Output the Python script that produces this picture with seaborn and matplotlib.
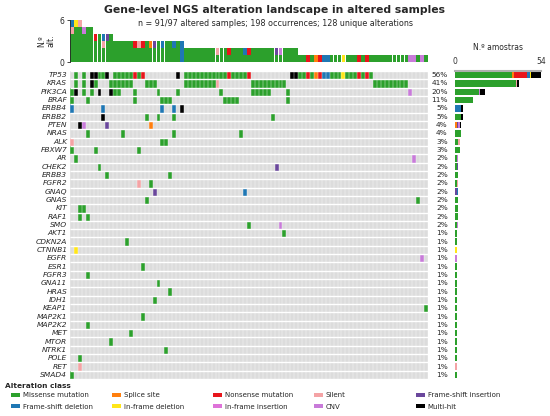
import numpy as np
import pandas as pd
import seaborn as sns
import matplotlib.pyplot as plt
from matplotlib.colors import ListedColormap
from matplotlib.patches import Patch


N_TOTAL = 97
N_SAMPLES = 91
N_UNIQUE = 128

genes = ["TP53", "KRAS", "PIK3CA", "BRAF", "ERBB4", "ERBB2", "PTEN", "NRAS", "ALK",
         "FBXW7", "AR", "CHEK2", "ERBB3", "FGFR2", "GNAQ", "GNAS", "KIT", "RAF1", "SMO",
         "AKT1", "CDKN2A", "CTNNB1", "EGFR", "ESR1", "FGFR3", "GNA11", "HRAS", "IDH1",
         "KEAP1", "MAP2K1", "MAP2K2", "MET", "MTOR", "NTRK1", "POLE", "RET", "SMAD4"]

# one letter per alteration class, a cell with 2+ letters is a multi-hit
class_codes = ["M", "S", "N", "L", "I", "D", "d", "i", "C"]
class_names = ["Missense mutation", "Splice site", "Nonsense mutation", "Silent",
               "Frame-shift insertion", "Frame-shift deletion", "In-frame deletion",
               "In-frame insertion", "CNV"]
class_colors = ["#2ca02c", "#ff7f0e", "#e8151b", "#f4a3a5", "#6a479c",
                "#1f77b4", "#ffe619", "#de73d9", "#c87bd9"]
MULTI_COLOR = "#000000"
EMPTY_COLOR = "#dcdcdc"

# sample index : alteration code(s), per gene
gene_rows = [
    "1:M 3:M 5:MM 6:MN 7:M 8:M 9:MM 11-15:M 16:N 17:M 18:N 27:MM 29-39:M 40:N 41-44:M 45:N "
    "56:MM 57:MM 58:M 59:M 60:N 61:M 62:S 63:N 64:D 65:D 66-68:M 69:d 70-72:M 73:N 74:M 75:N 76:M",
    "1:M 3:M 5:MM 6:M 10-15:M 19-21:M 29-36:M 37:L 46-54:M 77-85:M",
    "0:M 1:MM 3:M 5:M 7:MM 10:MM 11:M 12:M 16:M 22:M 27:M 38:M 46-50:M 55:M 86:C",
    "0:M 4:M 16:M 23-25:M 39-42:M 55:M",
    "0:D 8:D 23:D 26:D 28:DDD",
    "8:ML 19:M 22:M 26:M 51:M",
    "2:MM 3:C 9:I 20:S",
    "4:M 13:M 26:M 43:M",
    "0:L 23:M 24:M",
    "0:M 6:M 17:M",
    "1:M 87:C",
    "7:M 52:I",
    "9:M 25:M",
    "17:L 20:M",
    "21:I 44:D",
    "19:M 88:M",
    "2:M 3:M",
    "2:M 4:M",
    "45:M 53:C",
    "54:M",
    "14:M",
    "1:d",
    "89:C",
    "18:M",
    "4:M",
    "22:M",
    "25:M",
    "21:M",
    "90:M",
    "18:M",
    "4:M",
    "15:M",
    "10:M",
    "24:M",
    "2:M",
    "2:L",
    "0:M",
]


def parse_row(text):
    cells = {}
    for tok in text.split():
        pos, code = tok.split(":")
        if "-" in pos:
            a, b = pos.split("-")
            for c in range(int(a), int(b) + 1):
                cells[c] = code
        else:
            cells[int(pos)] = code
    return cells


rows = [parse_row(r) for r in gene_rows]

# matrix of classes: 0 empty, 1..9 class, 10 multi-hit
mat = np.zeros((len(genes), N_SAMPLES), dtype=int)
sample_counts = pd.DataFrame(0, index=range(N_SAMPLES), columns=class_codes)
gene_counts = pd.DataFrame(0, index=genes, columns=class_codes + ["X"])
for g, (gene, cells) in enumerate(zip(genes, rows)):
    for col, code in cells.items():
        for ch in code:
            sample_counts.loc[col, ch] += 1
        if len(code) > 1:
            mat[g, col] = 10
            gene_counts.loc[gene, "X"] += 1
        else:
            mat[g, col] = class_codes.index(code) + 1
            gene_counts.loc[gene, code] += 1

n_occ = int(sample_counts.values.sum())

sns.set_style("white")
plt.rcParams["font.family"] = ["DejaVu Sans"]

fig = plt.figure(figsize=(5.5, 4.16), dpi=100)
W, H = 550.0, 416.0

ax_top = fig.add_axes([70 / W, 1 - 62 / H, 358 / W, 42 / H])
ax_mat = fig.add_axes([70 / W, 1 - 379 / H, 358 / W, 308 / H])
ax_bar = fig.add_axes([455 / W, 1 - 379 / H, 86 / W, 308 / H])

# oncoprint matrix
cmap = ListedColormap([EMPTY_COLOR] + class_colors + [MULTI_COLOR])
sns.heatmap(mat, ax=ax_mat, cmap=cmap, vmin=-0.5, vmax=10.5, cbar=False,
            linewidths=0, xticklabels=False, yticklabels=genes)
ax_mat.vlines(np.arange(N_SAMPLES + 1), 0, len(genes), color="white", lw=0.35, alpha=0.8)
ax_mat.hlines(np.arange(len(genes) + 1), 0, N_SAMPLES, color="white", lw=1.0)
ax_mat.tick_params(axis="y", length=0, pad=2, labelsize=5.4)
for lab in ax_mat.get_yticklabels():
    lab.set_fontstyle("italic")
    lab.set_rotation(0)

# top: alterations per sample
x = np.arange(N_SAMPLES) + 0.5
bottom = np.zeros(N_SAMPLES)
for code, color in zip(class_codes, class_colors):
    vals = sample_counts[code].values
    ax_top.bar(x, vals, bottom=bottom, width=0.94, color=color, edgecolor="none")
    bottom += vals
ax_top.set_xlim(0, N_SAMPLES)
ax_top.set_ylim(0, sample_counts.sum(axis=1).max())
ax_top.set_yticks([0, sample_counts.sum(axis=1).max()])
ax_top.set_xticks([])
ax_top.tick_params(axis="y", labelsize=5.5, length=2.5, width=0.6, pad=1.5, left=True)
ax_top.set_ylabel("N.º\nalt.", fontsize=5.5, labelpad=3, linespacing=1.0)
sns.despine(ax=ax_top, bottom=True)
ax_top.spines["left"].set_linewidth(0.6)

# right: alterations per gene
y = np.arange(len(genes)) + 0.5
left = np.zeros(len(genes))
for code, color in zip(class_codes + ["X"], class_colors + [MULTI_COLOR]):
    vals = gene_counts[code].values
    ax_bar.barh(y, vals, left=left, height=0.78, color=color, edgecolor="none")
    left += vals
gene_tot = gene_counts.sum(axis=1).values
ax_bar.set_ylim(len(genes), 0)
ax_bar.set_xlim(0, gene_tot.max())
ax_bar.set_xticks([0, gene_tot.max()])
ax_bar.set_yticks([])
ax_bar.xaxis.tick_top()
ax_bar.xaxis.set_label_position("top")
ax_bar.set_xlabel("N.º amostras", fontsize=5.5, labelpad=5)
ax_bar.tick_params(axis="x", labelsize=5.5, length=2, width=0.6, pad=1.5, colors="#333333")
sns.despine(ax=ax_bar, left=True, bottom=True, top=False)
ax_bar.spines["top"].set_color("#b0b0b0")
ax_bar.spines["top"].set_linewidth(1.5)
for yy, tot in zip(y, gene_tot):
    ax_bar.text(-0.085, yy, "{:.0f}%".format(100 * tot / N_TOTAL), fontsize=5.3,
                ha="right", va="center", transform=ax_bar.get_yaxis_transform())

# titles
fig.text(275 / W, 1 - 10 / H, "Gene-level NGS alteration landscape in altered samples",
         fontsize=7.8, fontweight="bold", ha="center", va="center")
fig.text(275 / W, 1 - 24 / H,
         "n = {}/{} altered samples; {} occurrences; {} unique alterations".format(
             N_SAMPLES, N_TOTAL, n_occ, N_UNIQUE),
         fontsize=5.8, ha="center", va="center")

# legend, five columns of two entries
handles = [Patch(facecolor=c, edgecolor="none", label=n) for n, c in zip(class_names, class_colors)]
handles.append(Patch(facecolor=MULTI_COLOR, edgecolor="none", label="Multi-hit"))
fig.text(5 / W, 1 - 386 / H, "Alteration class", fontsize=5.3, fontweight="bold",
         ha="left", va="center")
col_x = [11, 112, 213, 314, 416]
for j, cx in enumerate(col_x):
    leg = fig.legend(handles=[handles[j], handles[j + 5]], loc="center left",
                     bbox_to_anchor=(cx / W, 1 - 401 / H), frameon=False, fontsize=5,
                     handlelength=1.3, handleheight=0.6, handletextpad=0.4,
                     labelspacing=0.75, borderpad=0, borderaxespad=0)

fig.savefig("out.png", dpi=100)
